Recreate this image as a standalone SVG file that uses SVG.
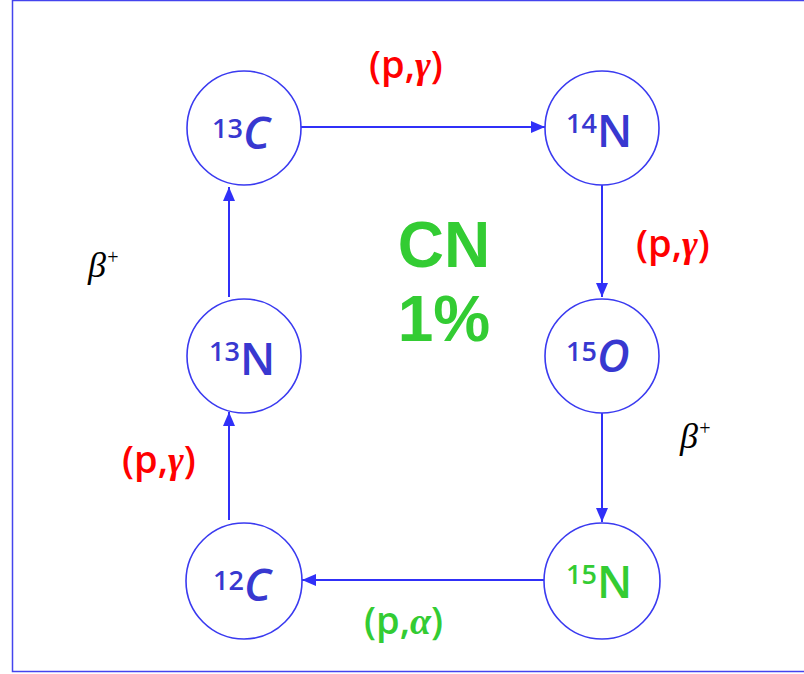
<svg xmlns="http://www.w3.org/2000/svg" width="804" height="674" viewBox="0 0 804 674">
<defs>
<style>
.node{fill:#fff;stroke:#3a3af0;stroke-width:1.6}
.nuc{font-family:"Open Sans","DejaVu Sans",sans-serif;fill:#3838d0;font-weight:600}
.sup{font-size:27px}
.el{font-size:45px}
.red{font-family:"Open Sans","DejaVu Sans",sans-serif;font-size:38px;fill:#ff0000;font-weight:600}
.grn{fill:#33cc33}
.beta{font-family:"Liberation Serif","DejaVu Serif",serif;font-style:italic;font-size:36px;fill:#000}
.big{font-family:"Liberation Sans",Arial,sans-serif;font-size:64px;font-weight:bold;fill:#33cc33}
.conn line{stroke:#3030f8;stroke-width:2;marker-end:url(#ah)}
</style>
<marker id="ah" viewBox="0 0 14 12" refX="14" refY="6" markerWidth="14" markerHeight="12" markerUnits="userSpaceOnUse" orient="auto">
<path d="M0,0 L14,6 L0,12 Z" fill="#3030f8"/>
</marker>
</defs>
<rect x="0" y="0" width="804" height="674" fill="#fff"/>
<rect x="12.5" y="0.5" width="800" height="671" fill="none" stroke="#4444ee" stroke-width="1.5"/>
<g class="conn">
<line x1="301" y1="127" x2="545" y2="127"/>
<line x1="602" y1="185" x2="602" y2="297"/>
<line x1="602" y1="412" x2="602" y2="522"/>
<line x1="545" y1="580" x2="302" y2="580"/>
<line x1="229" y1="520" x2="229" y2="412"/>
<line x1="229" y1="297" x2="229" y2="187"/>
</g>
<g id="n13C"><circle class="node" cx="244" cy="128" r="57"/><text class="nuc" x="212" y="138"><tspan class="sup">13</tspan><tspan class="el" font-style="italic" y="149">C</tspan></text></g>
<g id="n14N"><circle class="node" cx="602" cy="128" r="57"/><text class="nuc" x="566" y="133"><tspan class="sup">14</tspan><tspan class="el" y="147">N</tspan></text></g>
<g id="n15O"><circle class="node" cx="602" cy="356" r="57"/><text class="nuc" x="566" y="361"><tspan class="sup">15</tspan><tspan class="el" font-style="italic" y="372">O</tspan></text></g>
<g id="n13N"><circle class="node" cx="244" cy="356" r="57"/><text class="nuc" x="209" y="361"><tspan class="sup">13</tspan><tspan class="el" y="375">N</tspan></text></g>
<g id="n12C"><circle class="node" cx="244" cy="581" r="58"/><text class="nuc" x="213" y="590"><tspan class="sup">12</tspan><tspan class="el" font-style="italic" y="601">C</tspan></text></g>
<g id="n15N"><circle class="node" cx="602" cy="581" r="58"/><text class="nuc grn" x="566" y="584"><tspan class="sup">15</tspan><tspan class="el" y="598">N</tspan></text></g>
<text class="red" x="369" y="78">(p,<tspan font-style="italic" font-family="Liberation Serif,serif">γ</tspan>)</text>
<text class="red" x="636" y="257">(p,<tspan font-style="italic" font-family="Liberation Serif,serif">γ</tspan>)</text>
<text class="red" x="122" y="473">(p,<tspan font-style="italic" font-family="Liberation Serif,serif">γ</tspan>)</text>
<text class="red grn" x="364" y="634">(p,<tspan font-style="italic" font-family="Liberation Serif,serif">α</tspan>)</text>
<text class="beta" x="88" y="277">β<tspan font-size="20" dy="-13">+</tspan></text>
<text class="beta" x="680" y="448">β<tspan font-size="20" dy="-13">+</tspan></text>
<text class="big" x="444" y="267" text-anchor="middle">CN</text>
<text class="big" x="444" y="341" text-anchor="middle">1%</text>
</svg>
